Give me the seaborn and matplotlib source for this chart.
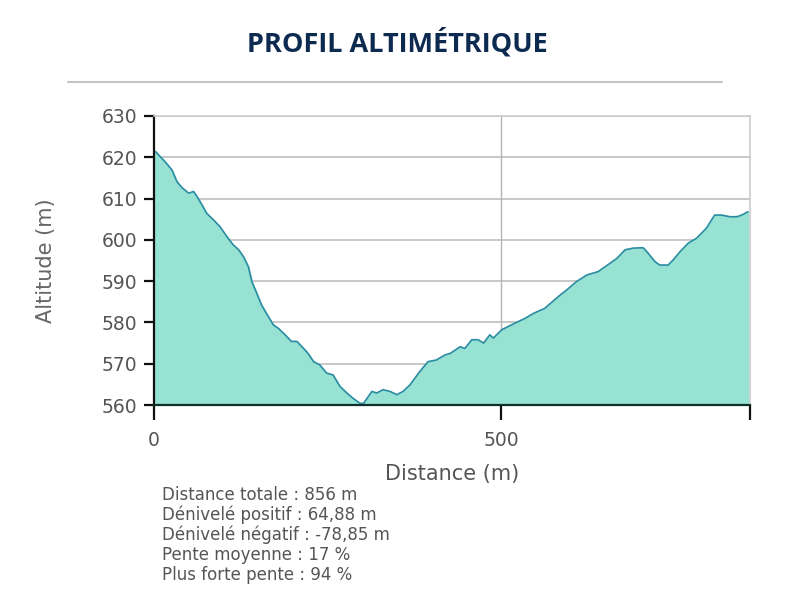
"""Profil altimétrique : altitude le long du parcours."""

import matplotlib
matplotlib.use("Agg")
import matplotlib.pyplot as plt
import seaborn as sns

distance = [0, 2, 16, 26, 33, 40, 50, 57, 62, 69, 76, 86, 95, 105, 114, 122, 129,
            136, 141, 148, 155, 162, 172, 179, 189, 198, 206, 215, 222, 230, 239,
            249, 258, 268, 278, 287, 297, 302, 314, 321, 330, 340, 350, 359, 369,
            383, 395, 407, 419, 427, 441, 448, 458, 467, 475, 484, 489, 501, 515,
            535, 547, 563, 583, 595, 609, 624, 640, 657, 667, 679, 691, 705, 712,
            722, 729, 741, 748, 758, 770, 782, 796, 808, 818, 830, 840, 847, 856]
altitude = [621.2, 621.4, 618.9, 616.9, 614.1, 612.7, 611.3, 611.7, 610.5, 608.5,
            606.4, 604.8, 603.2, 600.8, 598.8, 597.6, 595.9, 593.5, 589.9, 587.1,
            584.2, 582.2, 579.4, 578.6, 577.0, 575.4, 575.4, 573.8, 572.5, 570.5,
            569.7, 567.7, 567.3, 564.5, 562.9, 561.6, 560.4, 560.4, 563.3, 562.9,
            563.7, 563.3, 562.5, 563.3, 564.9, 568.1, 570.5, 570.9, 572.1, 572.5,
            574.1, 573.7, 575.8, 575.8, 575.0, 577.0, 576.2, 578.2, 579.4, 581.0,
            582.2, 583.4, 586.3, 587.9, 589.9, 591.5, 592.3, 594.3, 595.5, 597.6,
            598.0, 598.1, 596.8, 594.7, 593.9, 593.9, 595.1, 597.1, 599.2, 600.4,
            602.8, 606.0, 606.0, 605.6, 605.6, 606.0, 606.8]

stats = [
    "Distance totale : 856 m",
    "Dénivelé positif : 64,88 m",
    "Dénivelé négatif : -78,85 m",
    "Pente moyenne : 17 %",
    "Plus forte pente : 94 %",
]

sns.set_theme(style="white")
plt.rcParams["font.family"] = ["DejaVu Sans"]

fig = plt.figure(figsize=(8, 6), dpi=100)
ax = fig.add_axes([0.1925, 0.325, 0.745, 0.4817])

ax.fill_between(distance, altitude, 560, color="#97e2d3", zorder=2)
sns.lineplot(x=distance, y=altitude, color="#2b8ca3", linewidth=1.2, ax=ax, zorder=3)

ax.set_xlim(0, 859)
ax.set_ylim(560, 630)
ax.set_yticks(range(560, 631, 10))
ax.set_xticks([0, 500, 859])
ax.set_xticklabels(["0", "500", ""])

ax.grid(axis="y", color="#c8c8c8", linewidth=1.4, zorder=1)
ax.axvline(500, color="#b4b4b4", linewidth=1.0, zorder=1)

for side in ("top", "right"):
    ax.spines[side].set_color("#cccccc")
    ax.spines[side].set_linewidth(1.2)
ax.spines["left"].set_color("#111111")
ax.spines["bottom"].set_color("#0c2f2c")
ax.spines["left"].set_linewidth(1.6)
ax.spines["bottom"].set_linewidth(1.6)
for s in ax.spines.values():
    s.set_zorder(4)

ax.tick_params(axis="y", direction="out", length=7, width=1.6, color="#111111",
               labelsize=13.5, labelcolor="#555555", left=True, pad=5)
ax.tick_params(axis="x", direction="out", length=11, width=1.6, color="#111111",
               labelsize=13.5, labelcolor="#555555", bottom=True, pad=8)

ax.set_ylabel("Altitude (m)", fontsize=15, color="#666666", labelpad=33)
ax.set_xlabel("Distance (m)", fontsize=15, color="#555555", labelpad=10)

fig.text(0.4965, 0.929, "PROFIL ALTIMÉTRIQUE", ha="center", va="center",
         fontsize=19.5, fontweight="bold", color="#0d2a50", family="Open Sans")
fig.add_artist(plt.Line2D([0.085, 0.903], [0.863, 0.863], color="#c4c4c4",
                          linewidth=1.5))

fig.text(0.203, 0.19, "\n".join(stats), ha="left", va="top",
         fontsize=12, color="#555555", linespacing=1.12)

fig.savefig("out.png", dpi=100, facecolor="white")
